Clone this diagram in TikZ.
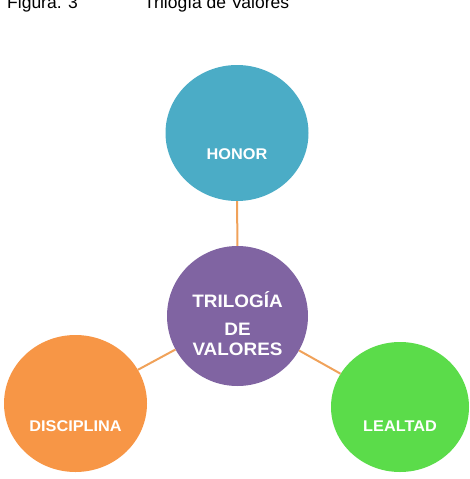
\documentclass[tikz,border=0pt]{standalone}
\usepackage{fontspec}
\setmainfont{Liberation Sans}
\newfontfamily\roundfont[FakeStretch=1.05]{Liberation Sans}
\usetikzlibrary{shapes.geometric}
\definecolor{cielo}{HTML}{4BACC6}
\definecolor{violeta}{HTML}{8064A2}
\definecolor{naranja}{HTML}{F79646}
\definecolor{verde}{HTML}{5BDC4A}
\definecolor{enlace}{HTML}{F0A25A}

\begin{document}
\begin{tikzpicture}[
    x=1pt, y=-1pt,
    ball/.style={ellipse, draw=none, inner sep=0pt},
    word/.style={text=white, font=\roundfont\bfseries\fontsize{15.5}{18}\selectfont},
    heading/.style={anchor=base west, inner sep=0pt, font=\fontsize{17.5}{20}\selectfont},
    link/.style={draw=enlace, line width=2pt}
]
\useasboundingbox (0,0) rectangle (469,479);

% caption
\node[heading] (fig) at (7,9) {Figura. 3};
\node[heading] (title) at (144,9) {Trilogía de Valores};

% circles
\node[ball, fill=cielo, minimum width=143pt, minimum height=136pt,
      label={[word, yshift=-21.5pt]center:HONOR}] (honor) at (237,133) {};
\node[ball, fill=violeta, minimum width=141pt, minimum height=140pt,
      label={[word, align=center, yshift=-8pt,
              font=\roundfont\bfseries\fontsize{18}{20}\selectfont]center:TRILOGÍA\\[8pt]DE\\VALORES}] (trilogia) at (237.5,316) {};
\node[ball, fill=naranja, minimum width=143pt, minimum height=137pt,
      label={[word, yshift=-22.7pt]center:DISCIPLINA}] (disciplina) at (75.5,403.5) {};
\node[ball, fill=verde, minimum width=138pt, minimum height=130pt,
      label={[word, yshift=-19.2pt]center:LEALTAD}] (lealtad) at (400,407) {};

% links to the centre
\draw[link] (trilogia) -- (honor);
\draw[link] (trilogia) -- (disciplina);
\draw[link] (trilogia) -- (lealtad);

\end{tikzpicture}
\end{document}
